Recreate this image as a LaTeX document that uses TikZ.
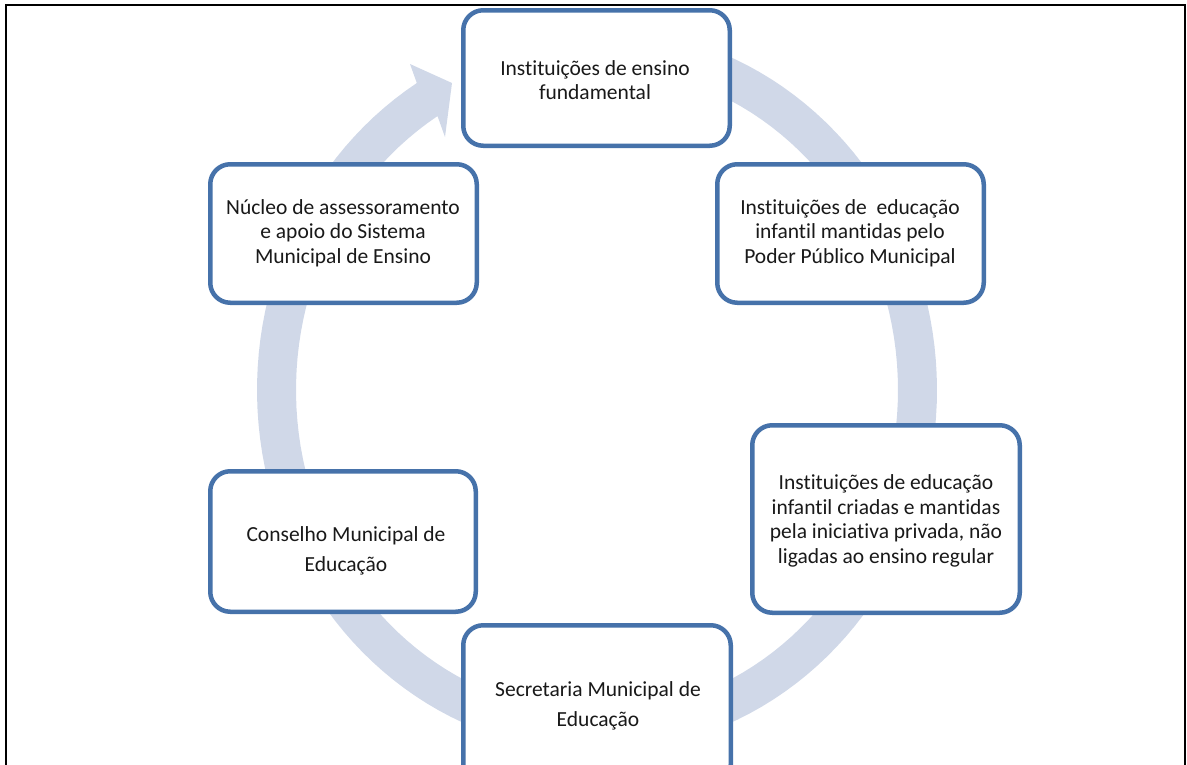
\documentclass[tikz,border=0pt]{standalone}
\usepackage{fontspec}
\setmainfont[Ligatures=NoCommon]{Carlito}
\definecolor{boxblue}{RGB}{70,114,170}
\definecolor{arcfill}{RGB}{208,216,232}
\begin{document}
\begin{tikzpicture}[x=1pt,y=-1pt,
  boxstyle/.style={draw=boxblue, line width=4.5pt, rounded corners=20pt, fill=white, inner sep=0pt},
  txt/.style={align=center, inner sep=0pt, text=black!90, font=\fontsize{21.5}{24.5}\selectfont},
  txtwide/.style={txt, font=\fontsize{21.5}{29.5}\selectfont}]
\useasboundingbox (0,0) rectangle (1187,764);
\clip (0,0) rectangle (1187,764);
% frame
\draw[line width=2.5pt, black] (6,770) -- (6,5) -- (1185,5) -- (1185,770);
% circular arrow
\fill[arcfill]
  plot[domain=100:-238, samples=150] ({597+340*cos(\x)}, {390-362*sin(\x)})
  -- (410,64) -- (452,83) -- (445,137)
  -- plot[domain=-238:100, samples=150] ({597+301*cos(\x)}, {390-323*sin(\x)})
  -- cycle;
% boxes
\node[boxstyle, minimum width=266.5pt, minimum height=135.5pt] (b1) at (596.5,78) {};
\node[boxstyle, minimum width=266.5pt, minimum height=138.5pt] (b2) at (850.5,233.5) {};
\node[boxstyle, minimum width=267.5pt, minimum height=187.5pt] (b3) at (886,519) {};
\node[boxstyle, minimum width=267.5pt, minimum height=159.5pt] (b4) at (597,705) {};
\node[boxstyle, minimum width=265.5pt, minimum height=140.5pt] (b5) at (343,541.5) {};
\node[boxstyle, minimum width=266.5pt, minimum height=138.5pt] (b6) at (343.5,233.5) {};
% texts
\node[txt] (t1) at (595,80) {Instituições de ensino\\fundamental};
\node[txt] (t2) at (850,233) {Instituições de\ \ educação\\infantil mantidas pelo\\Poder Público Municipal};
\node[txt] (t3) at (886,521) {Instituições de educação\\infantil criadas e mantidas\\pela iniciativa privada, não\\ligadas ao ensino regular};
\node[txtwide] (t4) at (598,706) {Secretaria Municipal de\\Educação};
\node[txtwide] (t5) at (346,551) {Conselho Municipal de\\Educação};
\node[txt] (t6) at (343,233) {Núcleo de assessoramento\\e apoio do Sistema\\Municipal de Ensino};
\end{tikzpicture}
\end{document}
